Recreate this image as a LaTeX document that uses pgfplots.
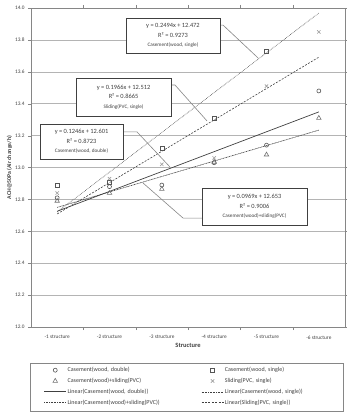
\documentclass[border=0pt]{standalone}
\usepackage{fontspec}
\setmainfont{Carlito}
\usepackage{pgfplots}
\pgfplotsset{compat=1.18}
\usetikzlibrary{calc}
\definecolor{txt}{HTML}{404040}
\definecolor{gridc}{HTML}{B4B4B4}
\definecolor{axc}{HTML}{868686}
\definecolor{ln}{HTML}{404040}
\definecolor{mk1}{HTML}{555555}
\definecolor{mk3}{HTML}{707070}
\definecolor{mk4}{HTML}{A0A0A0}
\begin{document}
\begin{tikzpicture}
\begin{axis}[name=ax, scale only axis, width=314pt, height=319pt, clip=false,
  xmin=0.5, xmax=6.5, ymin=12, ymax=14,
  xtick={1,2,3,4,5,6},
  xticklabels={-1 structure,-2 structure,-3 structure,-4 structure,-5 structure,-6 structure},
  major x tick style={draw=none},
  minor xtick={1.5,2.5,3.5,4.5,5.5},
  minor x tick style={draw=axc},
  ytick={12,12.2,...,14.01},
  yticklabel style={/pgf/number format/.cd, fixed, fixed zerofill, precision=1},
  /pgf/number format/assume math mode=true,
  tick align=outside, major tick length=3pt, minor tick length=3pt,
  ymajorgrids, grid style={draw=gridc, line width=0.6pt},
  axis line style={draw=axc, line width=0.7pt},
  ytick style={draw=axc},
  tick label style={font=\fontsize{5.3}{6}\selectfont, text=txt},
  xticklabel style={yshift=-2pt},
  xlabel={\bfseries Structure}, xlabel style={font=\fontsize{6.5}{7}\selectfont, text=txt, yshift=3pt},
  ylabel={\bfseries ACH@50Pa (Air change/h)}, ylabel style={font=\fontsize{5.8}{7}\selectfont, text=txt, yshift=-4pt},
  legend columns=2,
  legend image code/.code={\path[draw=none,fill=none] (-13pt,0pt) -- (22pt,0pt);\draw[mark repeat=2,mark phase=2,#1] plot coordinates {(0pt,0pt) (11pt,0pt) (22pt,0pt)};},
  legend style={at={(rel axis cs:-0.003,-0.113)}, anchor=north west, draw=none, fill=none,
     font=\fontsize{6}{7}\selectfont, text=txt, inner xsep=1pt, inner ysep=2.5pt,
     nodes={text width=117pt, align=left, inner ysep=1.2pt, inner xsep=1pt, text height=5pt, text depth=1.5pt},
     /tikz/every even column/.style={}, /tikz/every odd column/.style={},
     /tikz/column 2/.style={column sep=3pt}, /tikz/column 4/.style={column sep=0pt},
     row sep=1.9pt},
]
% markers
\addplot[only marks, mark=o, mark size=2pt, mk1, mark options={line width=0.6pt}] coordinates {(1,12.81) (2,12.88) (3,12.89) (4,13.03) (5,13.14) (6,13.48)};
\addlegendentry{Casement(wood, double)}
\addplot[only marks, mark=square, mark size=2pt, mk1, mark options={line width=0.6pt}] coordinates {(1,12.89) (2,12.905) (3,13.12) (4,13.31) (5,13.73)};
\addlegendentry{Casement(wood, single)}
\addplot[only marks, mark=triangle, mark size=2.6pt, mk3, mark options={line width=0.6pt}] coordinates {(1,12.79) (2,12.84) (3,12.865) (4,13.035) (5,13.08) (6,13.31)};
\addlegendentry{Casement(wood)+sliding(PVC)}
\addplot[only marks, mark=x, mark size=2.4pt, mk4, mark options={line width=0.6pt}] coordinates {(1,12.84) (2,12.93) (3,13.02) (4,13.06) (5,13.51) (6,13.85)};
\addlegendentry{Sliding(PVC, single)}
% trendlines
\addplot[ln, line width=0.7pt] coordinates {(1,12.7256) (6,13.3486)};
\addlegendentry{Linear(Casement(wood, double))}
\addplot[ln, line width=0.6pt, dash pattern=on 0.6pt off 1pt] coordinates {(1,12.7214) (6,13.9684)};
\addlegendentry{Linear(Casement(wood, single))}
\addplot[ln, line width=0.6pt, dash pattern=on 1pt off 0.6pt] coordinates {(1,12.7499) (6,13.2344)};
\addlegendentry{Linear(Casement(wood)+sliding(PVC))}
\addplot[ln, line width=0.6pt, dash pattern=on 2pt off 1.4pt] coordinates {(1,12.7086) (6,13.6916)};
\addlegendentry{Linear(Sliding(PVC, single))}
% leader lines
\draw[axc, line width=0.6pt] (axis cs:4.0,13.893) -- (axis cs:4.169,13.893) -- (axis cs:4.838,13.687);
\draw[axc, line width=0.6pt] (axis cs:3.0,13.517) -- (axis cs:3.252,13.517) -- (axis cs:3.863,13.292);
\draw[axc, line width=0.6pt] (axis cs:2.1,13.223) -- (axis cs:2.526,13.223) -- (axis cs:3.156,13.003);
\draw[axc, line width=0.6pt] (axis cs:2.640,12.903) -- (axis cs:3.405,12.683) -- (axis cs:3.9,12.683);
% boxes
\tikzset{eqbox/.style={draw=ln, line width=0.6pt, fill=white, align=center, text=txt, inner sep=2pt, font=\fontsize{6.4}{9.5}\selectfont}}
\node[eqbox, minimum width=94pt, minimum height=35pt] at (axis cs:3.213,13.828) {y = 0.2494x + 12.472\\R² = 0.9273\\{\fontsize{5.2}{6}\selectfont Casement(wood, single)}};
\node[eqbox, minimum width=95pt, minimum height=38pt] at (axis cs:2.268,13.442) {y = 0.1966x + 12.512\\R² = 0.8665\\{\fontsize{5.2}{6}\selectfont Sliding(PVC, single)}};
\node[eqbox, minimum width=83pt, minimum height=35pt] at (axis cs:1.465,13.163) {y = 0.1246x + 12.601\\R² = 0.8723\\{\fontsize{5.2}{6}\selectfont Casement(wood, double)}};
\node[eqbox, minimum width=105pt, minimum height=37pt] at (axis cs:4.771,12.755) {y = 0.0969x + 12.653\\R² = 0.9006\\{\fontsize{5.2}{6}\selectfont Casement(wood)+sliding(PVC)}};
\draw[axc, line width=0.6pt] (rel axis cs:-0.003,-0.113) rectangle (rel axis cs:0.994,-0.263);
\end{axis}
\pgfresetboundingbox
\path ($(ax.south west)+(-31pt,-88pt)$) rectangle ($(ax.north east)+(2pt,8pt)$);
\end{tikzpicture}
\end{document}
